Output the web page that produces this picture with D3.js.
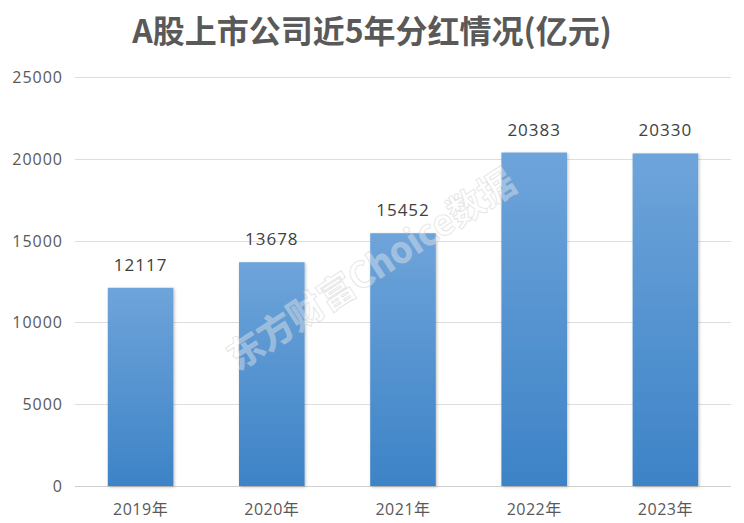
<!DOCTYPE html>
<html><head><meta charset="utf-8">
<script src="https://cdn.jsdelivr.net/npm/d3@7"></script>
<style>body{margin:0;background:#fff;}svg{display:block;}</style>
</head><body>
<svg id="c" width="744" height="523"></svg>
<script>
const categories = ["2019年","2020年","2021年","2022年","2023年"];
const values = [12117,13678,15452,20383,20330];
const yTicks = [0,5000,10000,15000,20000,25000];
const title = "A股上市公司近5年分红情况(亿元)";
const watermark = "东方财富Choice数据";

const svg = d3.select("#c");
const font = "'Microsoft YaHei','Noto Sans CJK SC','Open Sans',sans-serif";
const numFont = "'Open Sans','Noto Sans CJK SC',sans-serif";
const m = {l:75, r:13, t:77, b:37};
const W = 744, H = 523;
const x = d3.scaleBand().domain(categories).range([m.l, W-m.r]).paddingInner(0.5).paddingOuter(0.25);
const y = d3.scaleLinear().domain([0,25000]).range([H-m.b, m.t]);

const defs = svg.append("defs");
const g = defs.append("linearGradient").attr("id","bg").attr("x1",0).attr("y1",0).attr("x2",0).attr("y2",1).attr("gradientUnits","objectBoundingBox");
g.append("stop").attr("offset",0).attr("stop-color","#6ea4da");
g.append("stop").attr("offset",1).attr("stop-color","#3d83c7");
const f = defs.append("filter").attr("id","sh").attr("x","-20%").attr("y","-10%").attr("width","140%").attr("height","120%");
f.append("feDropShadow").attr("dx",1).attr("dy",1).attr("stdDeviation",1.5).attr("flood-color","#000").attr("flood-opacity",0.25);

svg.append("text").attr("x",W/2).attr("y",43).attr("text-anchor","middle")
  .attr("font-family",font).attr("font-weight","bold").attr("font-size",32).attr("fill","#595959").text(title);

// grid
svg.append("g").selectAll("line").data(yTicks).join("line")
  .attr("x1",m.l).attr("x2",W-m.r).attr("y1",d=>Math.round(y(d))+0.5).attr("y2",d=>Math.round(y(d))+0.5)
  .attr("stroke",d=>d===0?"#d0d0d0":"#dedede").attr("stroke-width",1);

svg.append("g").selectAll("text").data(yTicks).join("text")
  .attr("x",63).attr("y",d=>y(d)+6).attr("text-anchor","end")
  .attr("font-family",numFont).attr("font-size",16).attr("letter-spacing",1).attr("fill","#595959").text(d=>d);

svg.append("g").selectAll("rect").data(values).join("rect")
  .attr("x",(d,i)=>x(categories[i])).attr("width",x.bandwidth())
  .attr("y",d=>y(d)).attr("height",d=>y(0)-y(d))
  .attr("fill","url(#bg)").attr("filter","url(#sh)");

svg.append("g").selectAll("text").data(values).join("text")
  .attr("x",(d,i)=>x(categories[i])+x.bandwidth()/2).attr("y",d=>y(d)-17)
  .attr("text-anchor","middle").attr("font-family",numFont).attr("font-size",17).attr("letter-spacing",1).attr("fill","#404040").text(d=>d);

svg.append("g").selectAll("text").data(categories).join("text")
  .attr("x",d=>x(d)+x.bandwidth()/2).attr("y",515).attr("text-anchor","middle")
  .attr("font-family",numFont).attr("font-size",16).attr("letter-spacing",0.5).attr("fill","#595959").text(d=>d);

svg.append("text").attr("transform","translate(378,280) rotate(-33)").attr("text-anchor","middle")
  .attr("font-family",font).attr("font-weight","bold").attr("font-size",36)
  .attr("fill","rgba(255,255,255,0.35)").attr("stroke","rgba(200,200,200,0.45)").attr("stroke-width",1)
  .text(watermark);
</script>
</body></html>
